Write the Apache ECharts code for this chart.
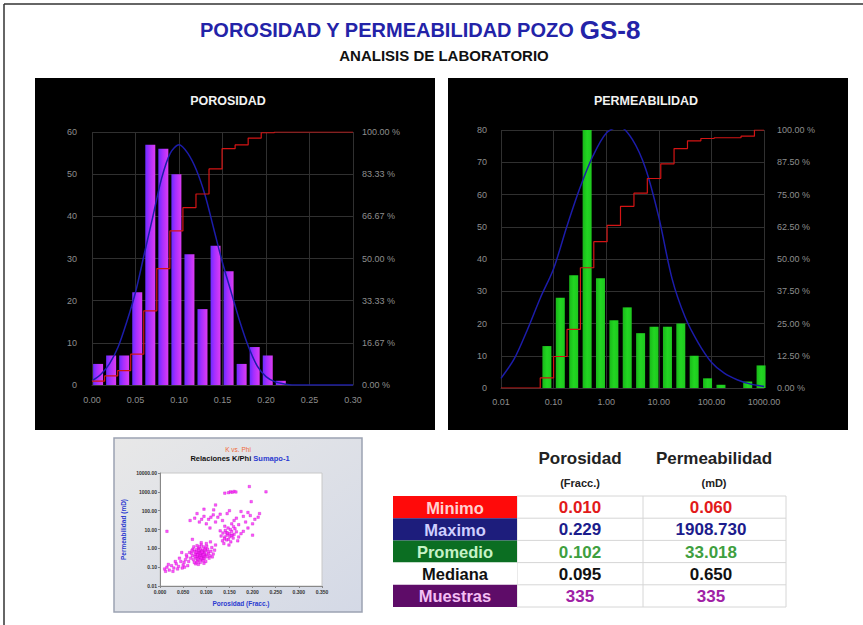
<!DOCTYPE html>
<html><head><meta charset="utf-8">
<script src="https://cdn.jsdelivr.net/npm/echarts@6/dist/echarts.min.js"></script>
<style>html,body{margin:0;padding:0;background:#fff}#c{width:863px;height:625px}</style>
</head><body><div id="c"></div>
<script>
// ---------- POROSIDAD histogram ----------
const porBinCenters = [0.007,0.022,0.037,0.052,0.067,0.082,0.097,0.112,0.127,0.142,0.157,0.172,0.187,0.202,0.217];
const porCounts = [5,7,7,22,57,56,50,31,18,33,27,5,9,7,1];
const porNormX = [0.00,0.01,0.02,0.03,0.04,0.05,0.06,0.07,0.08,0.09,0.10,0.11,0.12,0.13,0.14,0.15,0.16,0.17,0.18,0.19,0.20,0.21,0.22,0.23,0.24,0.25,0.26,0.27,0.28,0.29,0.30];
const porNormY = [1,2.5,5,9,15,22,31,40,49,55,57,55,51,45,37,29,22,15,9,4.5,2,0.8,0.3,0,0,0,0,0,0,0,0];
const porCumX = [0.000,0.0145,0.0295,0.0445,0.0595,0.0745,0.0895,0.1045,0.1195,0.1345,0.1495,0.1645,0.1795,0.1945,0.2095,0.30];
const porCumPct = [1.5,3.6,5.7,12.2,29.3,46.0,60.9,70.1,75.5,85.4,93.4,94.9,97.6,99.7,100,100];
const porXLabels = ['0.00','0.05','0.10','0.15','0.20','0.25','0.30'];
const porLeftLabels = ['0','10','20','30','40','50','60'];
const porRightLabels = ['0.00 %','16.67 %','33.33 %','50.00 %','66.67 %','83.33 %','100.00 %'];

// ---------- PERMEABILIDAD histogram ----------
const permBinCenters = [0.0746,0.134,0.241,0.434,0.778,1.40,2.51,4.51,8.11,14.6,26.2,47.0,84.5,152,272,490,879];
const permCounts = [13,28,35,80,34,21,25,17,19,19,20,10,3,1,0,2,7];
const permNormX = [0.01,0.0178,0.0316,0.0562,0.1,0.178,0.316,0.562,1,1.78,3.16,5.62,10,17.8,31.6,56.2,100,178,316,562,1000];
const permNormY = [3,9,18,28,37,50,62,72,79,81,77,68,53,34,22,14,8,4.5,2.5,1.2,0.5];
const permCumX = [0.01,0.0557,0.100,0.180,0.323,0.581,1.04,1.87,3.37,6.05,10.9,19.5,35.1,63.1,113,204,366,658,1000];
const permCumPct = [0,3.9,12.2,22.7,46.6,56.7,63.0,70.4,75.5,81.2,86.9,92.8,95.8,96.7,97.0,97.0,97.6,100,100];
const permXLabels = ['0.01','0.10','1.00','10.00','100.00','1000.00'];
const permLeftLabels = ['0','10','20','30','40','50','60','70','80'];
const permRightLabels = ['0.00 %','12.50 %','25.00 %','37.50 %','50.00 %','62.50 %','75.00 %','87.50 %','100.00 %'];

// ---------- K vs Phi scatter ----------
const scatterPoints = [
 [0.085,0.40],[0.090,0.35],[0.080,0.50],[0.095,0.60],[0.088,0.25],[0.078,0.30],[0.092,0.80],[0.100,0.45],[0.075,0.70],[0.083,1.00],
 [0.097,0.30],[0.105,0.55],[0.070,0.40],[0.087,0.18],[0.094,1.20],[0.081,0.22],[0.110,0.70],[0.072,0.25],[0.099,0.20],[0.086,0.65],
 [0.077,0.15],[0.091,0.50],[0.103,0.90],[0.068,0.55],[0.084,0.32],[0.108,0.40],[0.096,0.42],[0.079,0.85],[0.089,1.50],[0.074,0.18],
 [0.101,1.30],[0.066,0.30],[0.093,0.28],[0.115,0.50],[0.082,0.60],[0.098,0.75],[0.071,0.90],[0.112,1.10],[0.087,0.45],[0.062,0.20],
 [0.076,0.48],[0.094,0.38],[0.106,0.30],[0.083,0.14],[0.118,0.80],[0.089,2.00],[0.064,0.60],[0.100,1.80],[0.080,1.40],[0.120,1.50],
 [0.073,1.20],[0.095,0.16],[0.058,0.35],[0.109,2.20],[0.085,0.55],[0.091,0.27],[0.079,0.38],[0.104,0.65],[0.069,0.75],[0.113,0.35],
 [0.086,0.33],[0.092,0.42],[0.081,0.46],[0.088,0.58],[0.096,0.52],[0.078,0.62],[0.090,0.70],[0.084,0.80],[0.098,1.00],[0.093,0.22],
 [0.082,0.27],[0.087,0.95],[0.102,0.38],[0.076,0.36],[0.089,0.31],[0.094,0.47],[0.080,0.19],[0.085,1.20],[0.097,0.85],[0.091,0.62],
 [0.010,0.08],[0.015,0.10],[0.020,0.07],[0.025,0.12],[0.030,0.09],[0.035,0.15],[0.040,0.11],[0.045,0.20],[0.050,0.13],[0.055,0.25],
 [0.028,0.06],[0.038,0.08],[0.048,0.09],[0.018,0.14],[0.042,0.30],[0.052,0.18],[0.033,0.20],[0.060,0.12],[0.012,0.06],[0.057,0.45],
 [0.047,0.60],[0.053,0.10],
 [0.145,5.0],[0.150,6.0],[0.140,4.0],[0.155,8.0],[0.148,3.0],[0.135,2.5],[0.160,5.5],[0.152,10.0],[0.143,7.0],[0.138,1.8],
 [0.158,3.5],[0.147,12.0],[0.165,7.5],[0.132,4.5],[0.153,2.2],[0.141,9.0],[0.170,4.0],[0.149,1.5],[0.162,11.0],[0.136,6.5],
 [0.156,5.0],[0.144,2.8],[0.130,8.5],[0.168,2.5],[0.151,4.2],[0.159,14.0],[0.139,3.2],[0.175,6.0],[0.146,6.5],[0.154,4.8],
 [0.065,30],[0.075,40],[0.085,25],[0.095,50],[0.105,35],[0.115,60],[0.125,45],[0.135,30],[0.145,70],[0.155,20],
 [0.165,40],[0.175,90],[0.185,25],[0.195,55],[0.205,35],[0.215,70],[0.080,70],[0.100,20],[0.110,45],[0.120,25],
 [0.130,65],[0.160,30],[0.170,18],[0.190,80],[0.180,50],[0.200,20],[0.090,35],[0.140,15],[0.212,45],[0.150,100],
 [0.116,110],[0.095,120],[0.148,900],[0.152,1000],[0.156,950],[0.160,1050],[0.164,980],[0.140,850],[0.193,1908],[0.197,300],
 [0.229,1000],[0.015,8],[0.108,12],[0.120,200],[0.070,3],[0.180,8],[0.190,12],[0.200,5]
];
const scatterXLabels = ['0.000','0.050','0.100','0.150','0.200','0.250','0.300','0.350'];
const scatterYLabels = ['0.01','0.10','1.00','10.00','100.00','1000.00','10000.00'];

// ---------- Statistics table ----------
const statNames = ['Minimo','Maximo','Promedio','Mediana','Muestras'];
const porStats = ['0.010','0.229','0.102','0.095','335'];
const permStats = ['0.060','1908.730','33.018','0.650','335'];

const FONT = '"Liberation Sans", Arial, sans-serif';
const zip = (a, b) => a.map((v, i) => [v, b[i]]);
const lab = (arr) => (v, i) => (arr[i] !== undefined ? arr[i] : String(v));

const gridLine = { show: true, lineStyle: { color: '#303030', width: 1 } };
const darkLabel = { color: '#8e8e8e', fontSize: 9, fontFamily: FONT };

const graphics = [
  { type: 'line', shape: { x1: 4, y1: 4, x2: 863, y2: 4 }, style: { stroke: '#333', lineWidth: 1.5 } },
  { type: 'line', shape: { x1: 4, y1: 4, x2: 4, y2: 625 }, style: { stroke: '#333', lineWidth: 1.5 } },
  { type: 'text', style: { x: 420, y: 30, align: 'center', verticalAlign: 'middle',
      text: '{a|POROSIDAD Y PERMEABILIDAD POZO }{b|GS-8}',
      rich: { a: { fontSize: 20, fontWeight: 'bold', fontFamily: FONT, fill: '#2323a8' },
              b: { fontSize: 26, fontWeight: 'bold', fontFamily: FONT, fill: '#2323a8' } } } },
  { type: 'text', style: { x: 444, y: 55, align: 'center', verticalAlign: 'middle', text: 'ANALISIS DE LABORATORIO',
      fontSize: 15, fontWeight: 'bold', fontFamily: FONT, fill: '#111' } },
  { type: 'rect', z: -10, shape: { x: 35, y: 78, width: 400, height: 352 }, style: { fill: '#000' } },
  { type: 'rect', z: -10, shape: { x: 448, y: 78, width: 400, height: 352 }, style: { fill: '#000' } },
  { type: 'text', style: { x: 228, y: 101, align: 'center', verticalAlign: 'middle', text: 'POROSIDAD',
      fontSize: 12.5, fontWeight: 'bold', fontFamily: FONT, fill: '#f2f2f2' } },
  { type: 'text', style: { x: 646, y: 101, align: 'center', verticalAlign: 'middle', text: 'PERMEABILIDAD',
      fontSize: 12.5, fontWeight: 'bold', fontFamily: FONT, fill: '#f2f2f2' } },
  { type: 'rect', z: -10, shape: { x: 114, y: 438, width: 248, height: 174 },
    style: { fill: new echarts.graphic.LinearGradient(0, 0, 1, 1, [{ offset: 0, color: '#e8e8e8' }, { offset: 1, color: '#d4d9e6' }]),
             stroke: '#9ca2b2', lineWidth: 1.5 } },
  { type: 'text', style: { x: 238, y: 449, align: 'center', verticalAlign: 'middle', text: 'K vs. Phi',
      fontSize: 6.5, fontFamily: FONT, fill: '#f06a3a' } },
  { type: 'text', style: { x: 240, y: 458, align: 'center', verticalAlign: 'middle',
      text: '{a|Relaciones K/Phi }{b|Sumapo-1}',
      rich: { a: { fontSize: 7.5, fontWeight: 'bold', fontFamily: FONT, fill: '#111' },
              b: { fontSize: 7.5, fontWeight: 'bold', fontFamily: FONT, fill: '#2a3ad0' } } } },
  { type: 'text', style: { x: 580, y: 458, align: 'center', verticalAlign: 'middle', text: 'Porosidad',
      fontSize: 17, fontWeight: 'bold', fontFamily: FONT, fill: '#222' } },
  { type: 'text', style: { x: 714, y: 458, align: 'center', verticalAlign: 'middle', text: 'Permeabilidad',
      fontSize: 17, fontWeight: 'bold', fontFamily: FONT, fill: '#222' } },
  { type: 'text', style: { x: 580, y: 483, align: 'center', verticalAlign: 'middle', text: '(Fracc.)',
      fontSize: 11, fontWeight: 'bold', fontFamily: FONT, fill: '#222' } },
  { type: 'text', style: { x: 714, y: 483, align: 'center', verticalAlign: 'middle', text: '(mD)',
      fontSize: 11, fontWeight: 'bold', fontFamily: FONT, fill: '#222' } }
];

const rowBg = ['#ff0a0a', '#1d1d7c', '#0b6e22', '#ffffff', '#5e0c68'];
const rowLabelColor = ['#ffd0d0', '#cfcfff', '#c6f2c6', '#111111', '#f4bff4'];
const rowValueColor = ['#e21a1a', '#1c1c8c', '#3f9f3f', '#111111', '#a021a6'];
const tableTop = 496, rowH = 22.2;
for (let i = 0; i <= statNames.length; i++) {
  const y = tableTop + i * rowH;
  graphics.push({ type: 'line', shape: { x1: 517, y1: y, x2: 786, y2: y }, style: { stroke: '#d6d6d6', lineWidth: 1 } });
}
[517, 643, 786].forEach(x => graphics.push({ type: 'line', shape: { x1: x, y1: tableTop, x2: x, y2: tableTop + rowH * statNames.length },
  style: { stroke: '#d6d6d6', lineWidth: 1 } }));
statNames.forEach((name, i) => {
  const y = tableTop + i * rowH;
  graphics.push({ type: 'rect', shape: { x: 393, y: y, width: 124, height: rowH }, style: { fill: rowBg[i] } });
  graphics.push({ type: 'text', style: { x: 455, y: y + rowH / 2 + 0.5, align: 'center', verticalAlign: 'middle', text: name,
      fontSize: 16.5, fontWeight: 'bold', fontFamily: FONT, fill: rowLabelColor[i] } });
  graphics.push({ type: 'text', style: { x: 580, y: y + rowH / 2 + 0.5, align: 'center', verticalAlign: 'middle', text: porStats[i],
      fontSize: 17, fontWeight: 'bold', fontFamily: FONT, fill: rowValueColor[i] } });
  graphics.push({ type: 'text', style: { x: 711, y: y + rowH / 2 + 0.5, align: 'center', verticalAlign: 'middle', text: permStats[i],
      fontSize: 17, fontWeight: 'bold', fontFamily: FONT, fill: rowValueColor[i] } });
});

const porBarColor = new echarts.graphic.LinearGradient(0, 0, 1, 0, [
  { offset: 0, color: '#6a2cff' }, { offset: 0.4, color: '#a52eff' }, { offset: 1, color: '#dc3cf2' }]);
const permBarColor = new echarts.graphic.LinearGradient(0, 0, 1, 0, [
  { offset: 0, color: '#18b818' }, { offset: 0.5, color: '#22d622' }, { offset: 1, color: '#1ec81e' }]);

const chart = echarts.init(document.getElementById('c'), null, { renderer: 'svg', width: 863, height: 625 });
chart.setOption({
  animation: false,
  backgroundColor: '#ffffff',
  textStyle: { fontFamily: FONT },
  graphic: { elements: graphics },
  grid: [
    { left: 92, top: 132, width: 261, height: 253 },
    { left: 501, top: 130, width: 263, height: 258 },
    { left: 160, top: 473, width: 162, height: 113, show: true, backgroundColor: '#ffffff', borderColor: '#c8c8c8', borderWidth: 1 }
  ],
  xAxis: [
    { gridIndex: 0, type: 'value', min: 0, max: 0.30, interval: 0.05,
      axisLine: { show: true, lineStyle: { color: '#333' } }, axisTick: { show: false },
      axisLabel: Object.assign({ margin: 10, formatter: lab(porXLabels) }, darkLabel), splitLine: gridLine },
    { gridIndex: 1, type: 'log', logBase: 10, min: 0.01, max: 1000,
      axisLine: { show: true, lineStyle: { color: '#333' } }, axisTick: { show: false },
      axisLabel: Object.assign({ margin: 9, formatter: lab(permXLabels) }, darkLabel), splitLine: gridLine, minorSplitLine: { show: false } },
    { gridIndex: 2, type: 'value', min: 0, max: 0.35, interval: 0.05,
      axisLine: { show: true, lineStyle: { color: '#888' } }, axisTick: { show: true, length: 2, lineStyle: { color: '#888' } },
      axisLabel: { fontSize: 5, color: '#333', margin: 3, fontWeight: 'bold', formatter: lab(scatterXLabels) },
      splitLine: { show: false },
      name: 'Porosidad (Fracc.)', nameLocation: 'middle', nameGap: 14,
      nameTextStyle: { color: '#2a3ad0', fontSize: 6.5, fontWeight: 'bold' } }
  ],
  yAxis: [
    { gridIndex: 0, type: 'value', min: 0, max: 60, interval: 10, position: 'left',
      axisLine: { show: false }, axisTick: { show: false },
      axisLabel: Object.assign({ margin: 15, formatter: lab(porLeftLabels) }, darkLabel), splitLine: gridLine },
    { gridIndex: 0, type: 'value', min: 0, max: 100, interval: 100 / 6, position: 'right',
      axisLine: { show: false }, axisTick: { show: false },
      axisLabel: Object.assign({ margin: 9, formatter: lab(porRightLabels) }, darkLabel), splitLine: { show: false } },
    { gridIndex: 1, type: 'value', min: 0, max: 80, interval: 10, position: 'left',
      axisLine: { show: false }, axisTick: { show: false },
      axisLabel: Object.assign({ margin: 14, formatter: lab(permLeftLabels) }, darkLabel), splitLine: gridLine },
    { gridIndex: 1, type: 'value', min: 0, max: 100, interval: 12.5, position: 'right',
      axisLine: { show: false }, axisTick: { show: false },
      axisLabel: Object.assign({ margin: 13, formatter: lab(permRightLabels) }, darkLabel), splitLine: { show: false } },
    { gridIndex: 2, type: 'log', logBase: 10, min: 0.01, max: 10000,
      axisLine: { show: true, lineStyle: { color: '#888' } }, axisTick: { show: true, length: 2, lineStyle: { color: '#888' } },
      axisLabel: { fontSize: 5, color: '#333', margin: 3, fontWeight: 'bold', formatter: lab(scatterYLabels) },
      splitLine: { show: false }, minorSplitLine: { show: false },
      name: 'Permeabilidad (mD)', nameLocation: 'middle', nameRotate: 90, nameGap: 33,
      nameTextStyle: { color: '#2a3ad0', fontSize: 6.5, fontWeight: 'bold' } }
  ],
  series: [
    { type: 'bar', xAxisIndex: 0, yAxisIndex: 0, barWidth: 10, data: zip(porBinCenters, porCounts),
      itemStyle: { color: porBarColor } },
    { type: 'line', xAxisIndex: 0, yAxisIndex: 0, data: zip(porNormX, porNormY), smooth: 0.3, symbol: 'none',
      lineStyle: { color: '#1c1caa', width: 1.5 } },
    { type: 'line', xAxisIndex: 0, yAxisIndex: 1, data: zip(porCumX, porCumPct), step: 'end', symbol: 'none',
      lineStyle: { color: '#d41414', width: 1.2 } },
    { type: 'bar', xAxisIndex: 1, yAxisIndex: 2, barWidth: 9, data: zip(permBinCenters, permCounts),
      itemStyle: { color: permBarColor } },
    { type: 'line', xAxisIndex: 1, yAxisIndex: 2, data: zip(permNormX, permNormY), smooth: 0.3, symbol: 'none',
      lineStyle: { color: '#1c1caa', width: 1.5 } },
    { type: 'line', xAxisIndex: 1, yAxisIndex: 3, data: zip(permCumX, permCumPct), step: 'end', symbol: 'none',
      lineStyle: { color: '#d41414', width: 1.2 } },
    { type: 'scatter', xAxisIndex: 2, yAxisIndex: 4, data: scatterPoints, symbol: 'rect', symbolSize: 2.5,
      itemStyle: { color: '#ff2bff', borderColor: '#c000c0', borderWidth: 0.4 } }
  ]
});
</script></body></html>
